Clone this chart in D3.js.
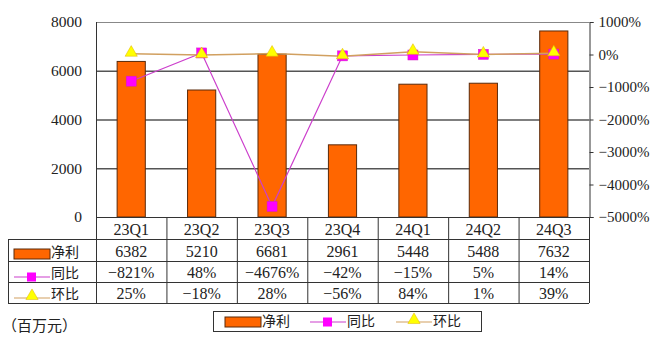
<!DOCTYPE html>
<html>
<head>
<meta charset="utf-8">
<script src="https://cdn.jsdelivr.net/npm/d3@7"></script>
<style>
  html, body { margin: 0; padding: 0; background: #fff; }
  text { font-family: 'Liberation Serif', 'Noto Sans CJK SC', serif; fill: #222; }
  .cjk { font-family: 'Noto Sans CJK SC', sans-serif; }
</style>
</head>
<body>
<div id="chart"></div>
<script>
const quarters = ['23Q1', '23Q2', '23Q3', '23Q4', '24Q1', '24Q2', '24Q3'];
const netProfit = [6382, 5210, 6681, 2961, 5448, 5488, 7632];
const yoy = [-821, 48, -4676, -42, -15, 5, 14];
const qoq = [25, -18, 28, -56, 84, 1, 39];
const leftTicks = [0, 2000, 4000, 6000, 8000];
const rightTicks = [1000, 0, -1000, -2000, -3000, -4000, -5000];

const svgWidth = 656;
const svgHeight = 341;
const plot = { left: 96, right: 589, top: 22, bottom: 217 };
const rowLines = [239, 261, 282, 303];
const tableLeft = 8;

const barColor = '#ff6600';
const yoyColor = '#cc3fcc';
const yoyMark = '#ff00ff';
const qoqColor = '#d1a060';
const qoqMark = '#ffff00';

const svg = d3
    .select('#chart')
    .append('svg')
    .attr('width', svgWidth)
    .attr('height', svgHeight);

const x = d3.scaleBand().domain(quarters).range([plot.left, plot.right]).padding(0);
const xBar = d3
    .scaleBand()
    .domain(quarters)
    .range([plot.left, plot.right])
    .paddingInner(0.6)
    .paddingOuter(0.3);
const y = d3.scaleLinear().domain([0, 8000]).range([plot.bottom, plot.top]);
const y2 = d3.scaleLinear().domain([-5000, 1000]).range([plot.bottom, plot.top]);

const fmtPct = v => (v < 0 ? '\u2212' + Math.abs(v) : v) + '%';

// grid lines
svg.append('g')
    .selectAll('line')
    .data(leftTicks.filter(d => d > 0))
    .enter()
    .append('line')
    .attr('x1', plot.left)
    .attr('x2', plot.right)
    .attr('y1', d => y(d) + 0.5)
    .attr('y2', d => y(d) + 0.5)
    .attr('stroke', d => (d === 8000 ? '#888' : '#555'))
    .attr('stroke-width', d => (d === 8000 ? 1 : 1.5));

// left axis labels
svg.append('g')
    .selectAll('text')
    .data(leftTicks)
    .enter()
    .append('text')
    .attr('x', 82)
    .attr('y', d => y(d))
    .attr('dy', '0.35em')
    .attr('text-anchor', 'end')
    .style('font-size', '15.5px')
    .text(d => d);

// right axis
const yAxisRight = d3
    .axisRight(y2)
    .tickValues(rightTicks)
    .tickSize(4)
    .tickFormat(fmtPct);
const ra = svg
    .append('g')
    .attr('transform', `translate(${plot.right + 0.5},0)`)
    .call(yAxisRight);
ra.select('.domain').attr('stroke', '#333');
ra.selectAll('.tick line').attr('stroke', '#333');
ra.selectAll('.tick text')
    .attr('x', 9)
    .style('font-size', '15px')
    .style('font-family', "'Liberation Serif', serif")
    .attr('fill', '#222');

// left plot edge
svg.append('line')
    .attr('x1', plot.left + 0.5)
    .attr('x2', plot.left + 0.5)
    .attr('y1', plot.top)
    .attr('y2', plot.bottom)
    .attr('stroke', '#333');

// bars
svg.append('g')
    .selectAll('rect')
    .data(quarters)
    .enter()
    .append('rect')
    .attr('x', d => xBar(d))
    .attr('width', xBar.bandwidth())
    .attr('y', (d, i) => y(netProfit[i]))
    .attr('height', (d, i) => y(0) - y(netProfit[i]))
    .attr('fill', barColor)
    .attr('stroke', '#5a2a0a')
    .attr('stroke-width', 1);

const cx = d => x(d) + x.bandwidth() / 2;

// yoy line
svg.append('path')
    .datum(quarters)
    .attr('fill', 'none')
    .attr('stroke', yoyColor)
    .attr('stroke-width', 1.2)
    .attr('d', d3.line().x(d => cx(d)).y((d, i) => y2(yoy[i])));

// qoq line
svg.append('path')
    .datum(quarters)
    .attr('fill', 'none')
    .attr('stroke', qoqColor)
    .attr('stroke-width', 1.5)
    .attr('d', d3.line().x(d => cx(d)).y((d, i) => y2(qoq[i])));

const tri = d3.symbol().type(d3.symbolTriangle).size(65);

svg.append('g')
    .selectAll('rect')
    .data(quarters)
    .enter()
    .append('rect')
    .attr('x', d => cx(d) - 5)
    .attr('y', (d, i) => y2(yoy[i]) - 5)
    .attr('width', 10)
    .attr('height', 10)
    .attr('fill', yoyMark)
    .attr('stroke', '#d020c0')
    .attr('stroke-width', 0.5);

svg.append('g')
    .selectAll('path')
    .data(quarters)
    .enter()
    .append('path')
    .attr('d', tri)
    .attr('transform', (d, i) => `translate(${cx(d)},${y2(qoq[i]) - 1})`)
    .attr('fill', qoqMark)
    .attr('stroke', '#e0b000')
    .attr('stroke-width', 0.5);

// data table
const table = svg.append('g').attr('stroke', '#333').attr('stroke-width', 1);
table.append('line')
    .attr('x1', plot.left).attr('x2', plot.right)
    .attr('y1', plot.bottom + 0.5).attr('y2', plot.bottom + 0.5);
rowLines.forEach(r => {
    table.append('line')
        .attr('x1', tableLeft).attr('x2', plot.right)
        .attr('y1', r + 0.5).attr('y2', r + 0.5);
});
table.append('line')
    .attr('x1', tableLeft + 0.5).attr('x2', tableLeft + 0.5)
    .attr('y1', rowLines[0]).attr('y2', rowLines[3]);
table.selectAll('line.col')
    .data(quarters.concat(['end']))
    .enter()
    .append('line')
    .attr('class', 'col')
    .attr('x1', (d, i) => (i < quarters.length ? x(d) : plot.right) + 0.5)
    .attr('x2', (d, i) => (i < quarters.length ? x(d) : plot.right) + 0.5)
    .attr('y1', plot.bottom)
    .attr('y2', rowLines[3]);

const rows = [
    { top: plot.bottom, values: quarters },
    { top: rowLines[0], values: netProfit },
    { top: rowLines[1], values: yoy.map(fmtPct) },
    { top: rowLines[2], values: qoq.map(fmtPct) }
];
rows.forEach((r, ri) => {
    const next = rowLines[ri];
    svg.append('g')
        .selectAll('text')
        .data(r.values)
        .enter()
        .append('text')
        .attr('x', (d, i) => cx(quarters[i]))
        .attr('y', (r.top + next) / 2 + 1)
        .attr('dy', '0.35em')
        .attr('text-anchor', 'middle')
        .style('font-size', '16px')
        .text(d => d);
});

// row labels with keys (key at ky, text at ty)
const rowLabel = (g, kind, x0, ky, ty, label) => {
    if (kind === 'bar') {
        g.append('rect')
            .attr('x', x0).attr('y', ky - 5).attr('width', 36).attr('height', 10)
            .attr('fill', barColor).attr('stroke', '#5a2a0a');
    } else {
        g.append('line')
            .attr('x1', x0).attr('x2', x0 + 36).attr('y1', ky).attr('y2', ky)
            .attr('stroke', kind === 'yoy' ? yoyColor : qoqColor)
            .attr('stroke-width', 1.2);
        if (kind === 'yoy') {
            g.append('rect')
                .attr('x', x0 + 13).attr('y', ky - 4.5).attr('width', 9).attr('height', 9)
                .attr('fill', yoyMark);
        } else {
            g.append('path')
                .attr('d', tri)
                .attr('transform', `translate(${x0 + 18},${ky - 2})`)
                .attr('fill', qoqMark).attr('stroke', '#e0b000').attr('stroke-width', 0.5);
        }
    }
    g.append('text')
        .attr('class', 'cjk')
        .attr('x', x0 + 37)
        .attr('y', ty)
        .attr('dy', '0.35em')
        .style('font-size', '14px')
        .text(label);
};
const labels = svg.append('g');
rowLabel(labels, 'bar', 14, 254, 252.5, '净利');
rowLabel(labels, 'yoy', 14, 277, 273.5, '同比');
rowLabel(labels, 'qoq', 14, 298, 294.5, '环比');

// unit
svg.append('text')
    .attr('class', 'cjk')
    .attr('x', 2)
    .attr('y', 326)
    .attr('dy', '0.35em')
    .style('font-size', '15px')
    .text('（百万元）');

// legend
const legend = svg.append('g');
legend.append('rect')
    .attr('x', 213.5).attr('y', 311.5).attr('width', 268).attr('height', 20)
    .attr('fill', '#fff').attr('stroke', '#333');
rowLabel(legend, 'bar', 225, 322, 321.5, '净利');
rowLabel(legend, 'yoy', 310, 322, 321.5, '同比');
rowLabel(legend, 'qoq', 396, 322, 321.5, '环比');
</script>
</body>
</html>
